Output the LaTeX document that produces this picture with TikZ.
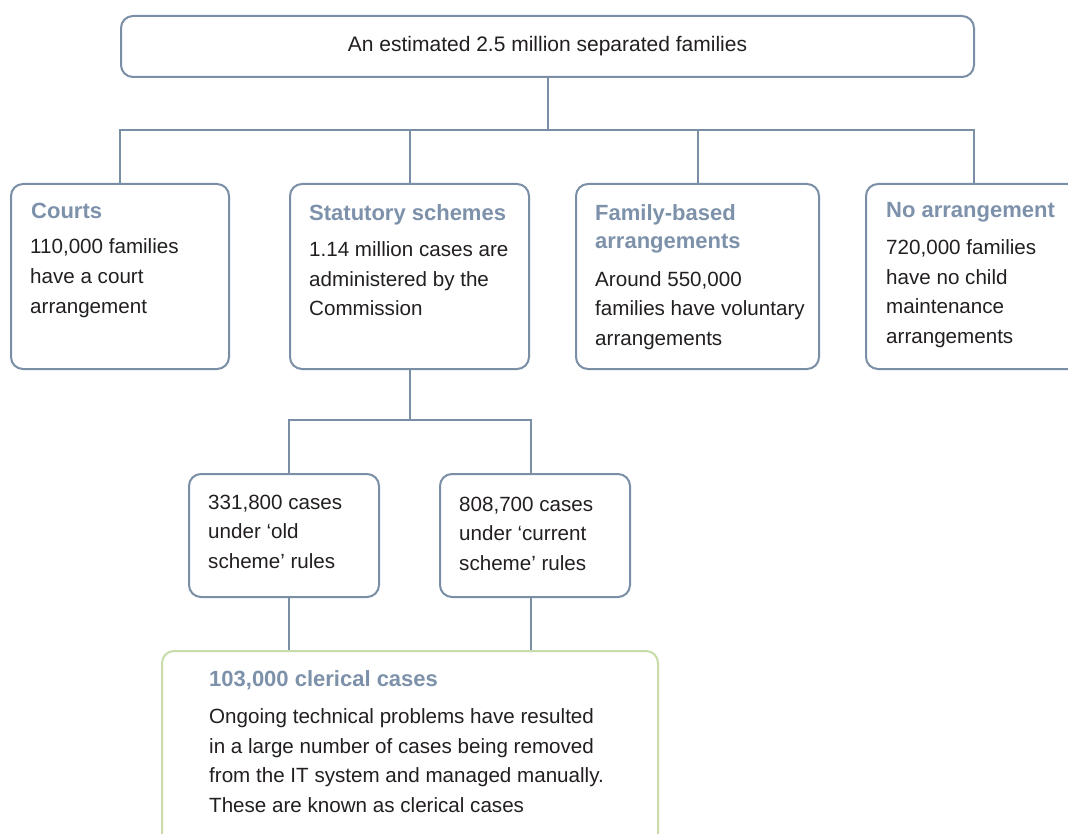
\documentclass[tikz,border=0pt]{standalone}
\usepackage{fontspec}
\setmainfont{Liberation Sans}
\definecolor{bcol}{RGB}{122,143,166}
\definecolor{hcol}{RGB}{125,146,170}
\definecolor{gcol}{RGB}{200,220,170}
\definecolor{tcol}{RGB}{35,31,32}
\tikzset{
  box/.style={draw=bcol, line width=2pt, rounded corners=12pt, anchor=north west, inner sep=0pt, fill=white},
  gbox/.style={box, draw=gcol},
  conn/.style={draw=bcol, line width=2pt},
  txt/.style={anchor=base west, inner sep=0pt, align=left, text=tcol, font=\fontsize{20.6}{29.5}\selectfont},
  head/.style={anchor=base west, inner sep=0pt, align=left, text=hcol, font=\bfseries\fontsize{22}{28}\selectfont},
}
\begin{document}
\begin{tikzpicture}[x=1pt,y=-1pt]
\useasboundingbox (0,0) rectangle (1068,834);
\clip (0,0) rectangle (1068,834);
\coordinate (bus) at (0,130);
\coordinate (bus2) at (0,420);
\coordinate (oc) at (289,0);
\coordinate (cc) at (531,0);
% boxes
\node[box, minimum width=853pt, minimum height=61pt] (top) at (120,15) {};
\node[anchor=center, inner sep=0pt, text=tcol, font=\fontsize{21}{24}\selectfont] (topT) at (top.center) {An estimated 2.5 million separated families};
\node[box, minimum width=218pt, minimum height=185pt] (courts) at (10,183) {};
\node[box, minimum width=239pt, minimum height=185pt] (stat) at (289,183) {};
\node[box, minimum width=243pt, minimum height=185pt] (fam) at (575,183) {};
\node[box, minimum width=216pt, minimum height=185pt] (noarr) at (865,183) {};
\node[box, minimum width=190pt, minimum height=123pt] (old) at (188,473) {};
\node[box, minimum width=190pt, minimum height=123pt] (cur) at (439,473) {};
\node[gbox, minimum width=496pt, minimum height=200pt] (cler) at (161,650) {};
% connectors
\draw[conn] (top.south) -- (top.south |- bus);
\draw[conn] (courts.north) |- (noarr.north |- bus) -- (noarr.north);
\draw[conn] (stat.north) -- (stat.north |- bus);
\draw[conn] (fam.north) -- (fam.north |- bus);
\draw[conn] (stat.south) -- (stat.south |- bus2);
\draw[conn] (old.north -| oc) |- (bus2 -| cc) -- (cur.north -| cc);
\draw[conn] (old.south -| oc) -- (cler.north -| oc);
\draw[conn] (cur.south -| cc) -- (cler.north -| cc);
% texts (base anchor = baseline of last line)
\node[head] (courtsH) at (31,219) {Courts};
\node[txt] (courtsT) at (30,313) {110,000 families\\have a court\\arrangement};
\node[head] (statH) at (309,221) {Statutory schemes};
\node[txt] (statT) at (309,316) {1.14 million cases are\\administered by the\\Commission};
\node[head] (famH) at (595,249) {Family-based\\arrangements};
\node[txt] (famT) at (595,345) {Around 550,000\\families have voluntary\\arrangements};
\node[head] (noarrH) at (886,218) {No arrangement};
\node[txt] (noarrT) at (886,343) {720,000 families\\have no child\\maintenance\\arrangements};
\node[txt] (oldT) at (208,568) {331,800 cases\\under `old\\scheme' rules};
\node[txt] (curT) at (459,570) {808,700 cases\\under `current\\scheme' rules};
\node[head] (clerH) at (209,686) {103,000 clerical cases};
\node[txt] (clerT) at (209,812) {Ongoing technical problems have resulted\\in a large number of cases being removed\\from the IT system and managed manually.\\These are known as clerical cases};
\end{tikzpicture}
\end{document}
